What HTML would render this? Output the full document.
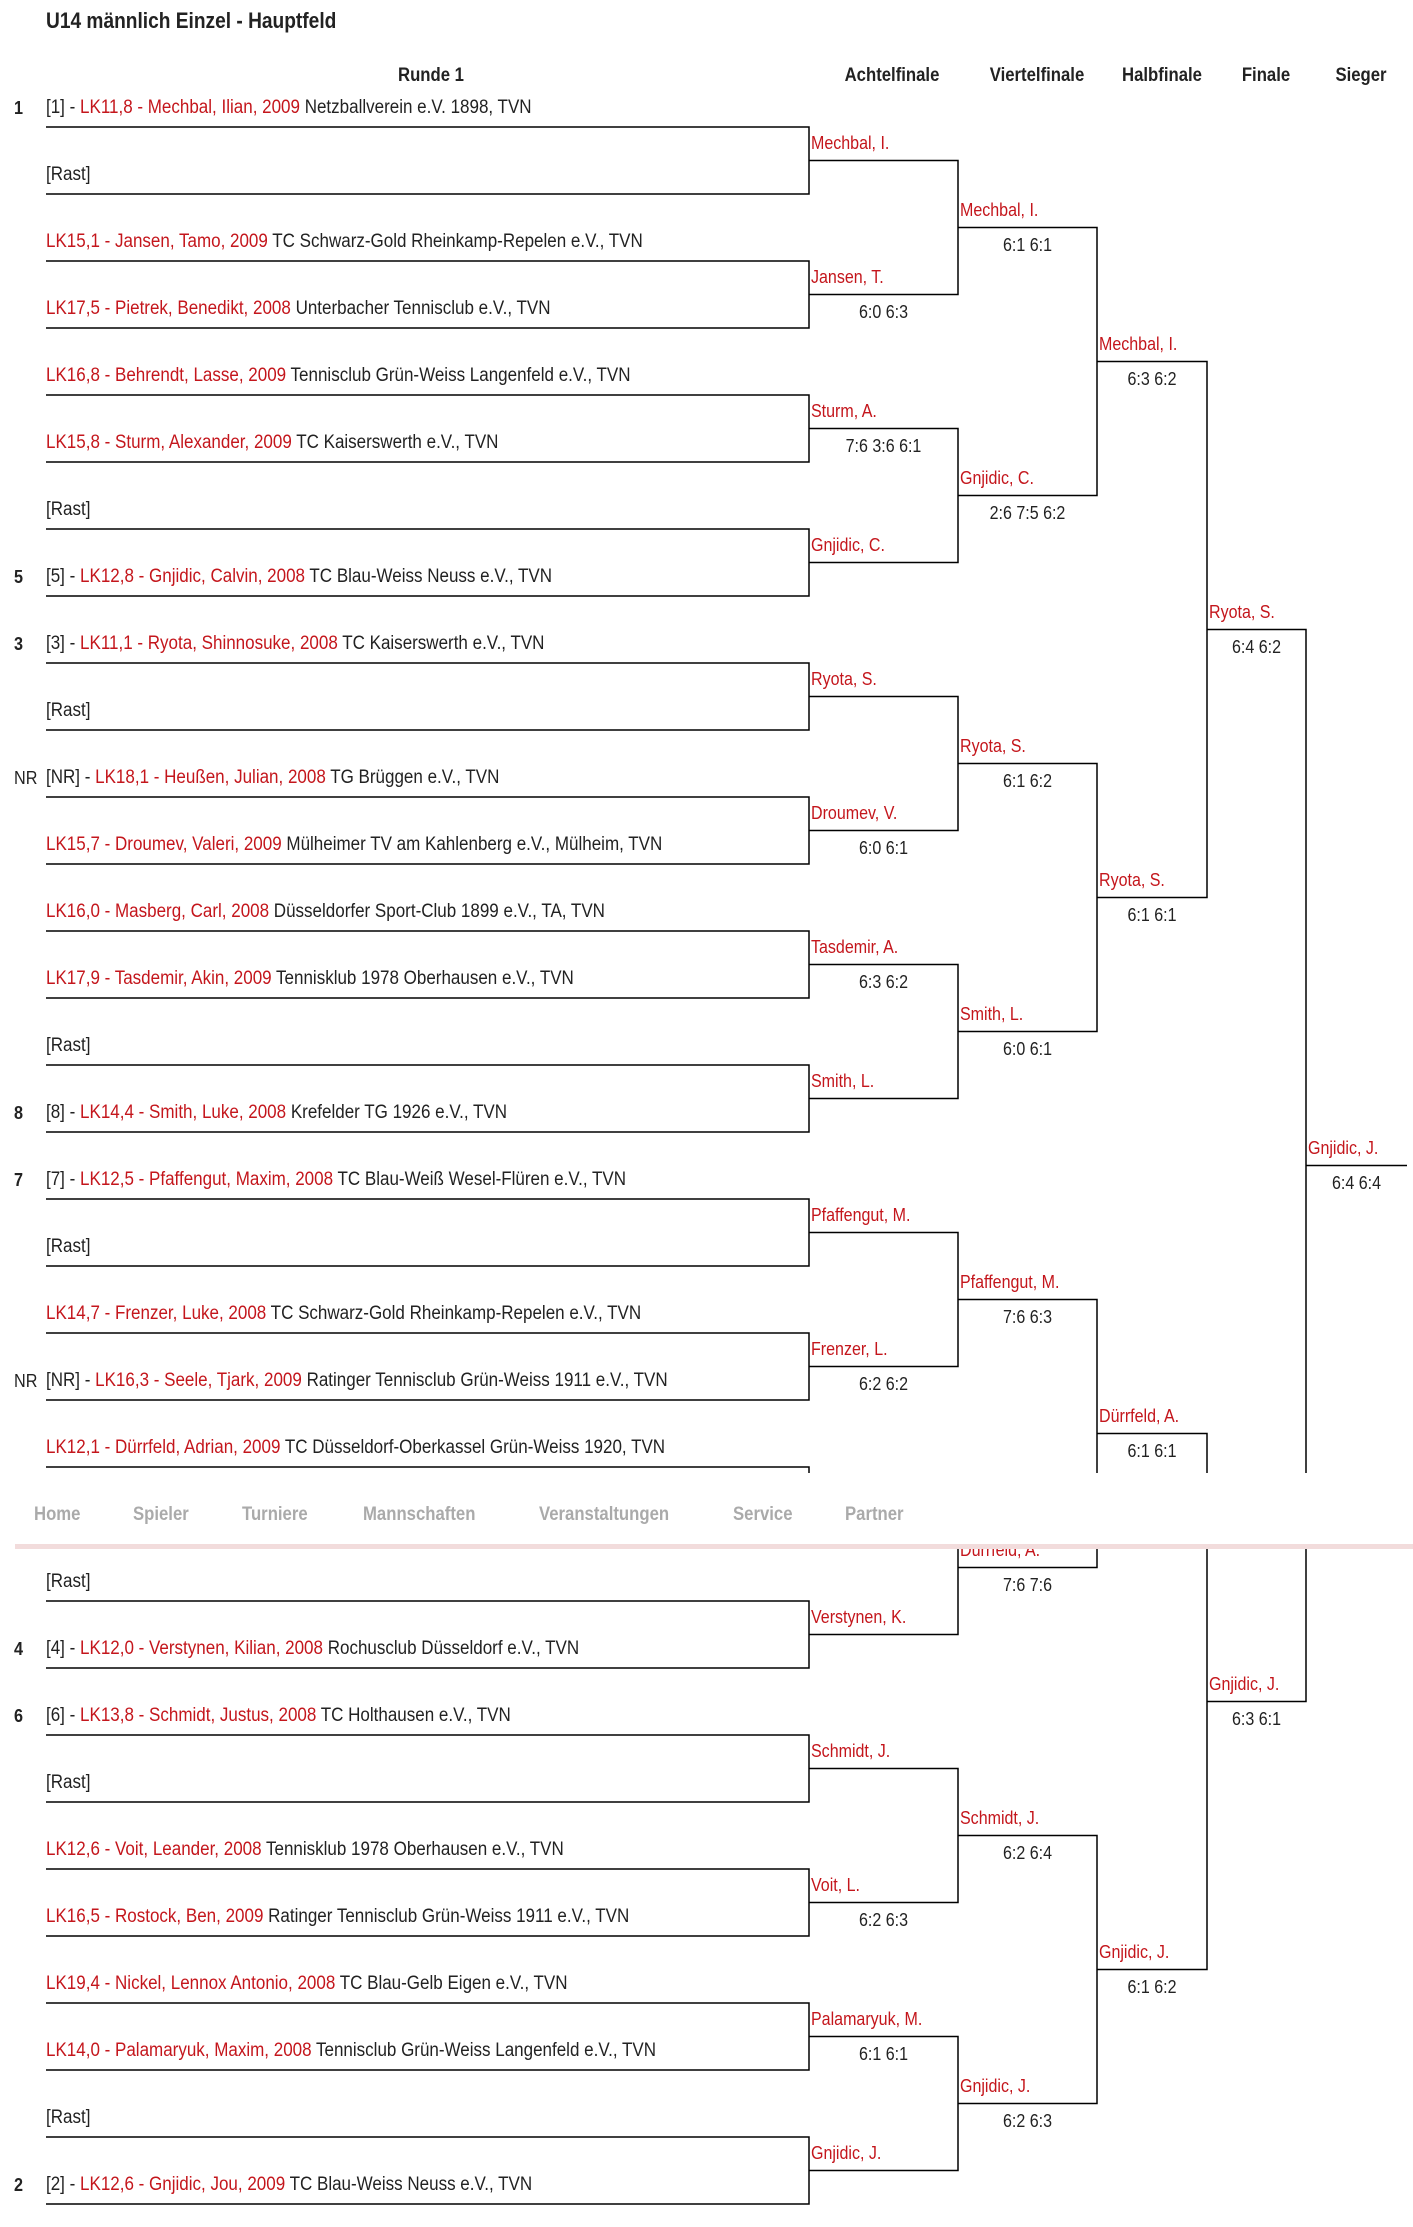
<!DOCTYPE html>
<html><head><meta charset="utf-8">
<style>
body{margin:0;background:#fff;width:1413px;height:2227px;position:relative;overflow:hidden;font-family:"Liberation Sans",sans-serif;color:#222;}
.t{position:absolute;white-space:nowrap;font-size:19px;line-height:20px;transform:scaleX(0.895);transform-origin:0 50%;}
.r{color:#c4161c;}
.n{position:absolute;white-space:nowrap;font-size:18px;line-height:20px;color:#c4161c;transform:scaleX(0.89);transform-origin:0 50%;}
.s{position:absolute;white-space:nowrap;font-size:18px;line-height:20px;text-align:center;transform:scaleX(0.89);}
.sd{position:absolute;left:14px;font-weight:bold;font-size:18px;line-height:20px;transform:scaleX(0.9);transform-origin:0 50%;}
.h{position:absolute;top:66px;font-weight:bold;font-size:19px;line-height:20px;text-align:center;white-space:nowrap;transform:scaleX(0.88);}
svg{position:absolute;left:0;top:0;}
.nav{position:absolute;left:15px;right:0;top:1473px;height:71px;background:#fff;}
.bar{position:absolute;left:15px;right:0;top:1544px;height:5px;background:#f2dcdc;}
.nv{position:absolute;top:1505px;font-weight:bold;font-size:19px;line-height:20px;color:#aaa;transform:scaleX(0.88);transform-origin:0 50%;}
</style></head><body>
<div style="position:absolute;left:46px;top:8px;font-weight:bold;font-size:22px;line-height:26px;white-space:nowrap;transform:scaleX(0.87);transform-origin:0 50%;">U14 männlich Einzel - Hauptfeld</div>
<div class="h" style="left:381px;width:100px;">Runde 1</div>
<div class="h" style="left:832px;width:120px;">Achtelfinale</div>
<div class="h" style="left:977px;width:120px;">Viertelfinale</div>
<div class="h" style="left:1107px;width:110px;">Halbfinale</div>
<div class="h" style="left:1226px;width:80px;">Finale</div>
<div class="h" style="left:1316px;width:90px;">Sieger</div>

<svg width="1413" height="2227" fill="none" stroke="#000" stroke-width="1.5">
<path d="M46 127H809V194H46 M46 261H809V328H46 M46 395H809V462H46 M46 529H809V596H46 M46 663H809V730H46 M46 797H809V864H46 M46 931H809V998H46 M46 1065H809V1132H46 M46 1199H809V1266H46 M46 1333H809V1400H46 M46 1467H809V1534H46 M46 1601H809V1668H46 M46 1735H809V1802H46 M46 1869H809V1936H46 M46 2003H809V2070H46 M46 2137H809V2204H46"/>
<path d="M809 160.5H958V294.5H809 M809 428.5H958V562.5H809 M809 696.5H958V830.5H809 M809 964.5H958V1098.5H809 M809 1232.5H958V1366.5H809 M809 1500.5H958V1634.5H809 M809 1768.5H958V1902.5H809 M809 2036.5H958V2170.5H809"/>
<path d="M958 227.5H1097V495.5H958 M958 763.5H1097V1031.5H958 M958 1299.5H1097V1567.5H958 M958 1835.5H1097V2103.5H958"/>
<path d="M1097 361.5H1207V897.5H1097 M1097 1433.5H1207V1969.5H1097"/>
<path d="M1207 629.5H1306V1701.5H1207"/>
<path d="M1306 1165.5H1407"/>
</svg>

<div class="sd" style="top:98px;">1</div>
<div class="t" style="left:46px;top:98px;">[1] - <span class="r">LK11,8 - Mechbal, Ilian, 2009</span> Netzballverein e.V. 1898, TVN</div>
<div class="t" style="left:46px;top:165px;">[Rast]</div>
<div class="t" style="left:46px;top:232px;"><span class="r">LK15,1 - Jansen, Tamo, 2009</span> TC Schwarz-Gold Rheinkamp-Repelen e.V., TVN</div>
<div class="t" style="left:46px;top:299px;"><span class="r">LK17,5 - Pietrek, Benedikt, 2008</span> Unterbacher Tennisclub e.V., TVN</div>
<div class="t" style="left:46px;top:366px;"><span class="r">LK16,8 - Behrendt, Lasse, 2009</span> Tennisclub Grün-Weiss Langenfeld e.V., TVN</div>
<div class="t" style="left:46px;top:433px;"><span class="r">LK15,8 - Sturm, Alexander, 2009</span> TC Kaiserswerth e.V., TVN</div>
<div class="t" style="left:46px;top:500px;">[Rast]</div>
<div class="sd" style="top:567px;">5</div>
<div class="t" style="left:46px;top:567px;">[5] - <span class="r">LK12,8 - Gnjidic, Calvin, 2008</span> TC Blau-Weiss Neuss e.V., TVN</div>
<div class="sd" style="top:634px;">3</div>
<div class="t" style="left:46px;top:634px;">[3] - <span class="r">LK11,1 - Ryota, Shinnosuke, 2008</span> TC Kaiserswerth e.V., TVN</div>
<div class="t" style="left:46px;top:701px;">[Rast]</div>
<div class="sd" style="top:768px;font-weight:normal;">NR</div>
<div class="t" style="left:46px;top:768px;">[NR] - <span class="r">LK18,1 - Heußen, Julian, 2008</span> TG Brüggen e.V., TVN</div>
<div class="t" style="left:46px;top:835px;"><span class="r">LK15,7 - Droumev, Valeri, 2009</span> Mülheimer TV am Kahlenberg e.V., Mülheim, TVN</div>
<div class="t" style="left:46px;top:902px;"><span class="r">LK16,0 - Masberg, Carl, 2008</span> Düsseldorfer Sport-Club 1899 e.V., TA, TVN</div>
<div class="t" style="left:46px;top:969px;"><span class="r">LK17,9 - Tasdemir, Akin, 2009</span> Tennisklub 1978 Oberhausen e.V., TVN</div>
<div class="t" style="left:46px;top:1036px;">[Rast]</div>
<div class="sd" style="top:1103px;">8</div>
<div class="t" style="left:46px;top:1103px;">[8] - <span class="r">LK14,4 - Smith, Luke, 2008</span> Krefelder TG 1926 e.V., TVN</div>
<div class="sd" style="top:1170px;">7</div>
<div class="t" style="left:46px;top:1170px;">[7] - <span class="r">LK12,5 - Pfaffengut, Maxim, 2008</span> TC Blau-Weiß Wesel-Flüren e.V., TVN</div>
<div class="t" style="left:46px;top:1237px;">[Rast]</div>
<div class="t" style="left:46px;top:1304px;"><span class="r">LK14,7 - Frenzer, Luke, 2008</span> TC Schwarz-Gold Rheinkamp-Repelen e.V., TVN</div>
<div class="sd" style="top:1371px;font-weight:normal;">NR</div>
<div class="t" style="left:46px;top:1371px;">[NR] - <span class="r">LK16,3 - Seele, Tjark, 2009</span> Ratinger Tennisclub Grün-Weiss 1911 e.V., TVN</div>
<div class="t" style="left:46px;top:1438px;"><span class="r">LK12,1 - Dürrfeld, Adrian, 2009</span> TC Düsseldorf-Oberkassel Grün-Weiss 1920, TVN</div>
<div class="t" style="left:46px;top:1572px;">[Rast]</div>
<div class="sd" style="top:1639px;">4</div>
<div class="t" style="left:46px;top:1639px;">[4] - <span class="r">LK12,0 - Verstynen, Kilian, 2008</span> Rochusclub Düsseldorf e.V., TVN</div>
<div class="sd" style="top:1706px;">6</div>
<div class="t" style="left:46px;top:1706px;">[6] - <span class="r">LK13,8 - Schmidt, Justus, 2008</span> TC Holthausen e.V., TVN</div>
<div class="t" style="left:46px;top:1773px;">[Rast]</div>
<div class="t" style="left:46px;top:1840px;"><span class="r">LK12,6 - Voit, Leander, 2008</span> Tennisklub 1978 Oberhausen e.V., TVN</div>
<div class="t" style="left:46px;top:1907px;"><span class="r">LK16,5 - Rostock, Ben, 2009</span> Ratinger Tennisclub Grün-Weiss 1911 e.V., TVN</div>
<div class="t" style="left:46px;top:1974px;"><span class="r">LK19,4 - Nickel, Lennox Antonio, 2008</span> TC Blau-Gelb Eigen e.V., TVN</div>
<div class="t" style="left:46px;top:2041px;"><span class="r">LK14,0 - Palamaryuk, Maxim, 2008</span> Tennisclub Grün-Weiss Langenfeld e.V., TVN</div>
<div class="t" style="left:46px;top:2108px;">[Rast]</div>
<div class="sd" style="top:2175px;">2</div>
<div class="t" style="left:46px;top:2175px;">[2] - <span class="r">LK12,6 - Gnjidic, Jou, 2009</span> TC Blau-Weiss Neuss e.V., TVN</div>

<div class="n" style="left:811px;top:133px;">Mechbal, I.</div>
<div class="n" style="left:811px;top:267px;">Jansen, T.</div><div class="s" style="left:809px;width:149px;top:302px;">6:0 6:3</div>
<div class="n" style="left:811px;top:401px;">Sturm, A.</div><div class="s" style="left:809px;width:149px;top:436px;">7:6 3:6 6:1</div>
<div class="n" style="left:811px;top:535px;">Gnjidic, C.</div>
<div class="n" style="left:811px;top:669px;">Ryota, S.</div>
<div class="n" style="left:811px;top:803px;">Droumev, V.</div><div class="s" style="left:809px;width:149px;top:838px;">6:0 6:1</div>
<div class="n" style="left:811px;top:937px;">Tasdemir, A.</div><div class="s" style="left:809px;width:149px;top:972px;">6:3 6:2</div>
<div class="n" style="left:811px;top:1071px;">Smith, L.</div>
<div class="n" style="left:811px;top:1205px;">Pfaffengut, M.</div>
<div class="n" style="left:811px;top:1339px;">Frenzer, L.</div><div class="s" style="left:809px;width:149px;top:1374px;">6:2 6:2</div>
<div class="n" style="left:811px;top:1607px;">Verstynen, K.</div>
<div class="n" style="left:811px;top:1741px;">Schmidt, J.</div>
<div class="n" style="left:811px;top:1875px;">Voit, L.</div><div class="s" style="left:809px;width:149px;top:1910px;">6:2 6:3</div>
<div class="n" style="left:811px;top:2009px;">Palamaryuk, M.</div><div class="s" style="left:809px;width:149px;top:2044px;">6:1 6:1</div>
<div class="n" style="left:811px;top:2143px;">Gnjidic, J.</div>

<div class="n" style="left:960px;top:200px;">Mechbal, I.</div><div class="s" style="left:958px;width:139px;top:235px;">6:1 6:1</div>
<div class="n" style="left:960px;top:468px;">Gnjidic, C.</div><div class="s" style="left:958px;width:139px;top:503px;">2:6 7:5 6:2</div>
<div class="n" style="left:960px;top:736px;">Ryota, S.</div><div class="s" style="left:958px;width:139px;top:771px;">6:1 6:2</div>
<div class="n" style="left:960px;top:1004px;">Smith, L.</div><div class="s" style="left:958px;width:139px;top:1039px;">6:0 6:1</div>
<div class="n" style="left:960px;top:1272px;">Pfaffengut, M.</div><div class="s" style="left:958px;width:139px;top:1307px;">7:6 6:3</div>
<div class="n" style="left:960px;top:1540px;">Dürrfeld, A.</div><div class="s" style="left:958px;width:139px;top:1575px;">7:6 7:6</div>
<div class="n" style="left:960px;top:1808px;">Schmidt, J.</div><div class="s" style="left:958px;width:139px;top:1843px;">6:2 6:4</div>
<div class="n" style="left:960px;top:2076px;">Gnjidic, J.</div><div class="s" style="left:958px;width:139px;top:2111px;">6:2 6:3</div>

<div class="n" style="left:1099px;top:334px;">Mechbal, I.</div><div class="s" style="left:1097px;width:110px;top:369px;">6:3 6:2</div>
<div class="n" style="left:1099px;top:870px;">Ryota, S.</div><div class="s" style="left:1097px;width:110px;top:905px;">6:1 6:1</div>
<div class="n" style="left:1099px;top:1406px;">Dürrfeld, A.</div><div class="s" style="left:1097px;width:110px;top:1441px;">6:1 6:1</div>
<div class="n" style="left:1099px;top:1942px;">Gnjidic, J.</div><div class="s" style="left:1097px;width:110px;top:1977px;">6:1 6:2</div>

<div class="n" style="left:1209px;top:602px;">Ryota, S.</div><div class="s" style="left:1207px;width:99px;top:637px;">6:4 6:2</div>
<div class="n" style="left:1209px;top:1674px;">Gnjidic, J.</div><div class="s" style="left:1207px;width:99px;top:1709px;">6:3 6:1</div>

<div class="n" style="left:1308px;top:1138px;">Gnjidic, J.</div><div class="s" style="left:1306px;width:101px;top:1173px;">6:4 6:4</div>

<div class="nav"></div>
<div class="bar"></div>
<div class="nv" style="left:34px;">Home</div>
<div class="nv" style="left:133px;">Spieler</div>
<div class="nv" style="left:242px;">Turniere</div>
<div class="nv" style="left:363px;">Mannschaften</div>
<div class="nv" style="left:539px;">Veranstaltungen</div>
<div class="nv" style="left:733px;">Service</div>
<div class="nv" style="left:845px;">Partner</div>
</body></html>
